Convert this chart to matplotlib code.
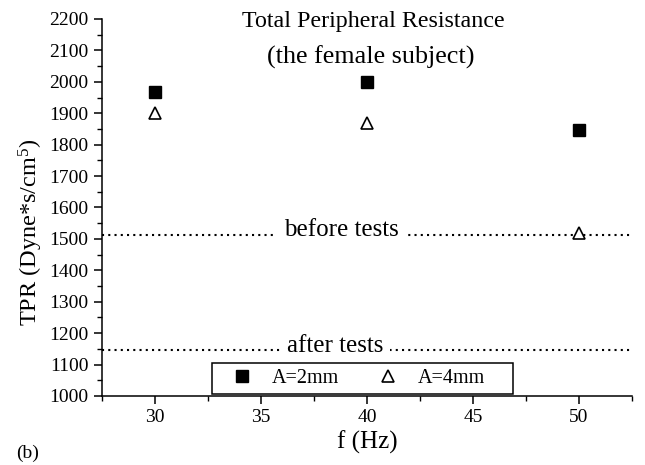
import matplotlib
matplotlib.use("Agg")
import matplotlib.pyplot as plt
from matplotlib.ticker import MultipleLocator
from matplotlib.patches import Rectangle

plt.rcParams['font.family'] = ['Liberation Serif', 'DejaVu Serif']
plt.rcParams['mathtext.fontset'] = 'custom'
plt.rcParams['mathtext.rm'] = 'Liberation Serif'
plt.rcParams['mathtext.it'] = 'Liberation Serif:italic'

freq = [30, 40, 50]
tpr_2mm = [1968, 2000, 1847]
tpr_4mm = [1900, 1868, 1519]
before_tests = 1514
after_tests = 1145
labels = ["A=2mm", "A=4mm"]

fig = plt.figure(figsize=(6.45, 4.65), dpi=100)
ax = fig.add_axes([0.1577, 0.1484, 0.8222, 0.8108])

ax.plot(freq, tpr_2mm, linestyle='none', marker='s', ms=8.5, color='black', label=labels[0], zorder=3)
ax.plot(freq, tpr_4mm, linestyle='none', marker='^', ms=8.8, mfc='white', mec='black', mew=1.2,
        label=labels[1], zorder=3)

dot = (0, (1.0, 2.0))
ax.axhline(before_tests, color='black', linestyle=dot, lw=1.5, zorder=1)
ax.axhline(after_tests, color='black', linestyle=dot, lw=1.5, zorder=1)
ax.text(38.8, before_tests - 4, "before tests", ha='center', va='baseline', fontsize=18,
        bbox=dict(facecolor='white', edgecolor='none', pad=5), zorder=2)
ax.text(38.5, after_tests - 4, "after tests", ha='center', va='baseline', fontsize=18,
        bbox=dict(facecolor='white', edgecolor='none', pad=5), zorder=2)

ax.set_xlim(27.5, 52.5)
ax.set_ylim(1000, 2200)
ax.xaxis.set_major_locator(MultipleLocator(5))
ax.xaxis.set_minor_locator(MultipleLocator(2.5))
ax.yaxis.set_major_locator(MultipleLocator(100))
ax.yaxis.set_minor_locator(MultipleLocator(50))
ax.spines['top'].set_visible(False)
ax.spines['right'].set_visible(False)
ax.spines['left'].set_linewidth(1.1)
ax.spines['bottom'].set_linewidth(1.1)
ax.tick_params(which='major', direction='out', length=5.5, width=1.1, labelsize=14, pad=4)
ax.tick_params(which='minor', direction='out', length=3.5, width=1.0)

ax.set_xlabel("f (Hz)", fontsize=18, labelpad=3)
ax.set_ylabel("TPR (Dyne*s/cm$^5$)", fontsize=17.5)
ax.yaxis.set_label_coords(-0.107, 0.435)

ax.text(40.3, 2174, "Total Peripheral Resistance", ha='center', va='baseline', fontsize=17.3)
ax.text(40.2, 2079, "(the female subject)", ha='center', va='center', fontsize=18.8)

fig.text(16 / 645, 1 - 453.5 / 465, "(b)", fontsize=14, ha='left', va='center')

leg = ax.legend(loc='center left', bbox_to_anchor=(0.208, 0.0464), ncol=2, fontsize=14.5,
                frameon=False, handlelength=2.5, handletextpad=0.25, columnspacing=1.17,
                borderpad=0.22, borderaxespad=0.0)
ax.add_patch(Rectangle((0.208, 0.0053), 0.7756 - 0.208, 0.0875 - 0.0053, transform=ax.transAxes,
                       facecolor='none', edgecolor='black', lw=1.1, zorder=4))

fig.savefig("out.png", dpi=100)
